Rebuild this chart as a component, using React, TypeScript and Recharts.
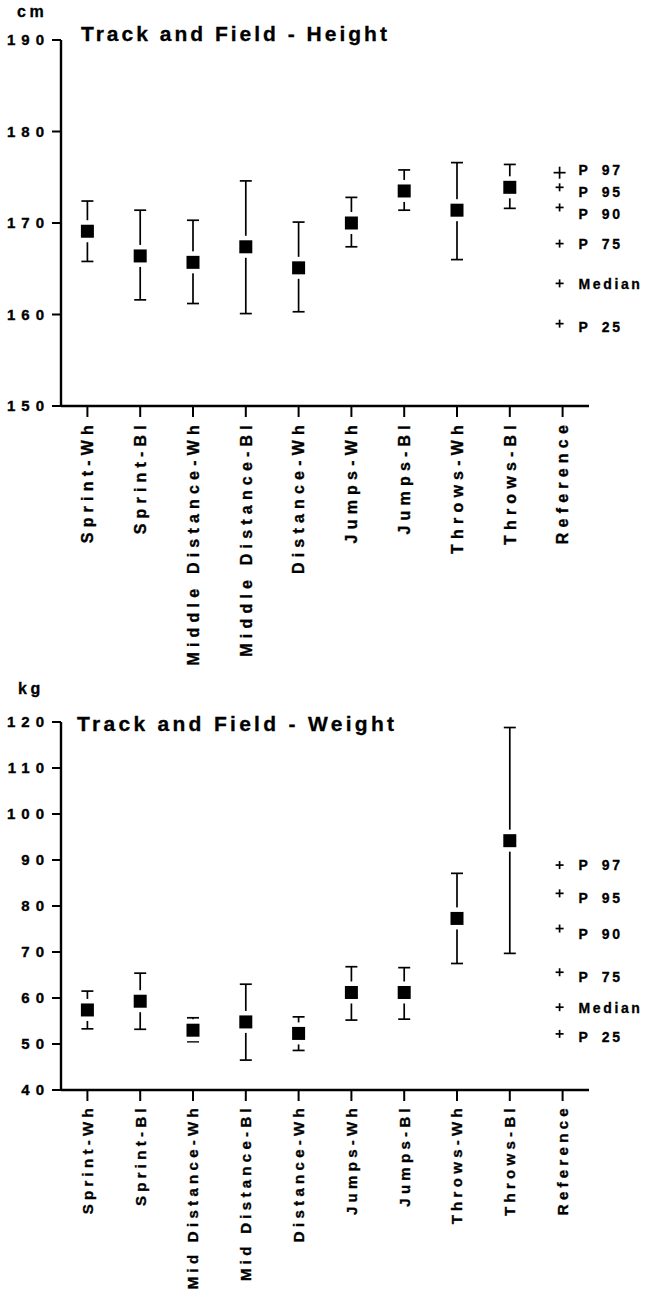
import React from "react";
import { ComposedChart, XAxis, YAxis, Scatter, ErrorBar, ReferenceDot } from "recharts";

const FONT = "'Liberation Sans', Arial, Helvetica, sans-serif";

const heightCategories = [
  "Sprint-Wh", "Sprint-Bl", "Middle Distance-Wh", "Middle Distance-Bl", "Distance-Wh",
  "Jumps-Wh", "Jumps-Bl", "Throws-Wh", "Throws-Bl", "Reference",
];
const heightMean = [169.1, 166.4, 165.7, 167.4, 165.1, 170.0, 173.5, 171.4, 173.9];
const heightLow = [165.8, 161.6, 161.2, 160.1, 160.3, 167.4, 171.4, 166.0, 171.6];
const heightHigh = [172.4, 171.4, 170.3, 174.6, 170.1, 172.8, 175.8, 176.6, 176.4];
const heightTicks = [150, 160, 170, 180, 190];

const weightCategories = [
  "Sprint-Wh", "Sprint-Bl", "Mid Distance-Wh", "Mid Distance-Bl", "Distance-Wh",
  "Jumps-Wh", "Jumps-Bl", "Throws-Wh", "Throws-Bl", "Reference",
];
const weightMean = [57.4, 59.3, 53.0, 54.8, 52.3, 61.2, 61.2, 77.3, 94.2];
const weightLow = [53.3, 53.2, 50.5, 46.5, 48.6, 55.2, 55.4, 67.5, 69.7];
const weightHigh = [61.5, 65.4, 55.7, 63.0, 55.9, 66.8, 66.6, 87.1, 118.8];
const weightTicks = [40, 50, 60, 70, 80, 90, 100, 110, 120];

const refLabels = ["P 97", "P 95", "P 90", "P 75", "Median", "P 25"];
const heightRef = [175.5, 173.9, 171.7, 167.75, 163.4, 159.0];
const weightRef = [88.9, 82.75, 75.1, 65.6, 58.0, 52.2];

// small vertical nudges of the percentile labels, as in the original layout
const heightLabelNudge = [-3, 4, 6, 0, 0, 3];
const weightLabelNudge = [0, 4, 5, 4, 0, 3];

function buildRows(categories: string[], mean: number[], low: number[], high: number[]) {
  return categories.map((name, i) => {
    const m = mean[i];
    if (m == null) return { name };
    return { name, mean: m, err: [m - low[i], high[i] - m] };
  });
}

const SquareDot = (props: any) => {
  const { cx, cy } = props;
  if (cx == null || cy == null || isNaN(cx) || isNaN(cy)) return null;
  return (
    <g>
      <rect x={cx - 10} y={cy - 11} width={20} height={22} fill="#fff" />
      <rect x={cx - 6.5} y={cy - 6.5} width={13} height={13} fill="#000" />
    </g>
  );
};

function makeCategoryTick(fontSize: number, spacing: number) {
  return (props: any) => {
    const { x, y, payload } = props;
    return (
      <text
        transform={`translate(${x},${y}) rotate(-90)`}
        textAnchor="end"
        dy="0.36em"
        fill="#000"
        stroke="#000"
        strokeWidth={0.35}
        fontFamily={FONT}
        fontWeight="bold"
        fontSize={fontSize}
        letterSpacing={spacing}
      >
        {payload.value}
      </text>
    );
  };
}

const ValueTick = (props: any) => {
  const { x, y, payload } = props;
  return (
    <text
      x={x}
      y={y}
      dy="0.36em"
      textAnchor="end"
      fill="#000"
      stroke="#000"
      strokeWidth={0.35}
      fontFamily={FONT}
      fontWeight="bold"
      fontSize={15}
      letterSpacing={6}
    >
      {payload.value}
    </text>
  );
};

function refShape(label: string, big: boolean, nudge: number) {
  return (props: any) => {
    const { cx, cy } = props;
    const h = big ? 6 : 4;
    const px = cx - 3;
    return (
      <g>
        <line x1={px - h} x2={px + h} y1={cy} y2={cy} stroke="#000" strokeWidth={1.7} />
        <line x1={px} x2={px} y1={cy - h} y2={cy + h} stroke="#000" strokeWidth={1.7} />
        <text
          x={cx + 16}
          y={cy + nudge}
          dy="0.38em"
          fill="#000"
          stroke="#000"
          strokeWidth={0.3}
          fontFamily={FONT}
          fontWeight="bold"
          fontSize={14}
          letterSpacing={2.6}
          wordSpacing={5}
        >
          {label}
        </text>
      </g>
    );
  };
}

interface PanelProps {
  categories: string[];
  mean: number[];
  low: number[];
  high: number[];
  ticks: number[];
  refValues: number[];
  labelNudge: number[];
  top: number;
  height: number;
  marginTop: number;
  xAxisHeight: number;
  bigFirstPlus: boolean;
  labelSize: number;
  labelSpacing: number;
}

function Panel(p: PanelProps) {
  const rows = buildRows(p.categories, p.mean, p.low, p.high);
  const CategoryTick = makeCategoryTick(p.labelSize, p.labelSpacing);
  return (
    <div style={{ position: "absolute", left: 0, top: p.top }}>
      <ComposedChart
        width={646}
        height={p.height}
        data={rows}
        margin={{ top: p.marginTop, right: 57, left: 0, bottom: 0 }}
        style={{ overflow: "visible" }}
      >
        <XAxis
          dataKey="name"
          type="category"
          scale="band"
          height={p.xAxisHeight}
          interval={0}
          tickSize={11}
          tickMargin={3}
          axisLine={{ stroke: "#000", strokeWidth: 2.4 }}
          tickLine={{ stroke: "#000", strokeWidth: 2 }}
          tick={<CategoryTick />}
        />
        <YAxis
          type="number"
          width={61}
          domain={[p.ticks[0], p.ticks[p.ticks.length - 1]]}
          ticks={p.ticks}
          interval={0}
          allowDataOverflow
          tickSize={9}
          tickMargin={2}
          axisLine={{ stroke: "#000", strokeWidth: 2.4 }}
          tickLine={{ stroke: "#000", strokeWidth: 2 }}
          tick={<ValueTick />}
        />
        <Scatter dataKey="mean" shape={<SquareDot />} isAnimationActive={false}>
          <ErrorBar dataKey="err" direction="y" width={6} stroke="#000" strokeWidth={1.7} />
        </Scatter>
        {p.refValues.map((v, i) => (
          <ReferenceDot
            key={refLabels[i]}
            x="Reference"
            y={v}
            r={4}
            ifOverflow="visible"
            shape={refShape(refLabels[i], p.bigFirstPlus && i === 0, p.labelNudge[i])}
          />
        ))}
      </ComposedChart>
    </div>
  );
}

const textStyle: React.CSSProperties = {
  position: "absolute",
  fontFamily: FONT,
  fontWeight: "bold",
  color: "#000",
  whiteSpace: "nowrap",
  WebkitTextStroke: "0.3px #000",
};

export default function App() {
  return (
    <div style={{ position: "absolute", left: 0, top: 0, width: 646, height: 1294, background: "#fff", overflow: "hidden" }}>
      <Panel
        categories={heightCategories}
        mean={heightMean}
        low={heightLow}
        high={heightHigh}
        ticks={heightTicks}
        refValues={heightRef}
        labelNudge={heightLabelNudge}
        top={0}
        height={680}
        marginTop={40}
        xAxisHeight={274}
        bigFirstPlus={true}
        labelSize={16}
        labelSpacing={5.2}
      />
      <Panel
        categories={weightCategories}
        mean={weightMean}
        low={weightLow}
        high={weightHigh}
        ticks={weightTicks}
        refValues={weightRef}
        labelNudge={weightLabelNudge}
        top={690}
        height={604}
        marginTop={32}
        xAxisHeight={204}
        bigFirstPlus={false}
        labelSize={15}
        labelSpacing={4.3}
      />
      <div style={{ ...textStyle, left: 17, top: 3, fontSize: 16, letterSpacing: 3.5, lineHeight: "18px" }}>cm</div>
      <div style={{ ...textStyle, left: 81, top: 22, fontSize: 21, letterSpacing: 3, lineHeight: "24px" }}>
        Track and Field - Height
      </div>
      <div style={{ ...textStyle, left: 18, top: 680, fontSize: 16, letterSpacing: 3.5, lineHeight: "18px" }}>kg</div>
      <div style={{ ...textStyle, left: 77, top: 712, fontSize: 21, letterSpacing: 3.3, lineHeight: "24px" }}>
        Track and Field - Weight
      </div>
    </div>
  );
}
